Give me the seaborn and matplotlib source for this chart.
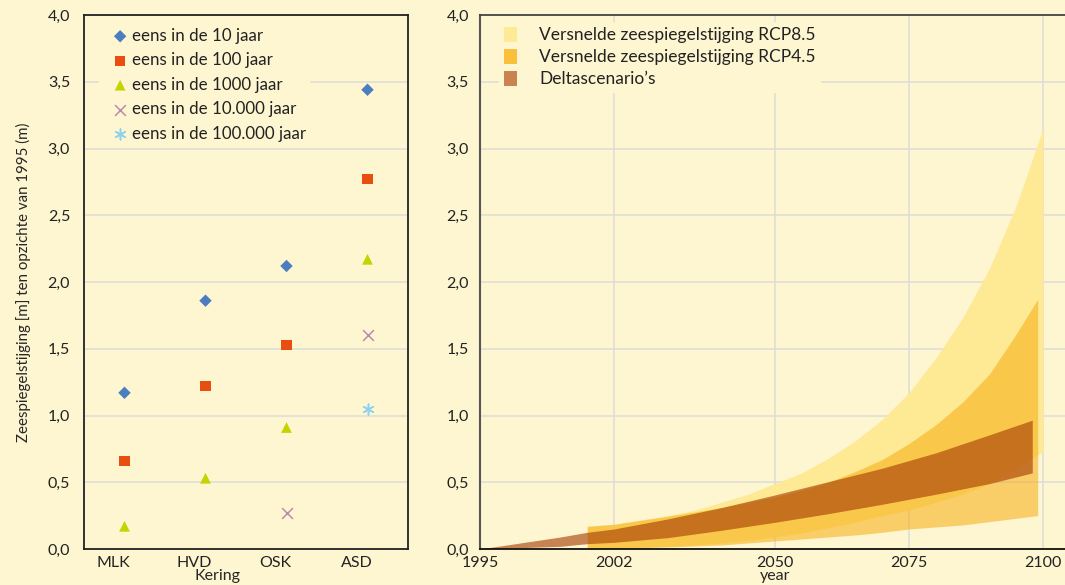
import matplotlib
matplotlib.use('Agg')
import numpy as np
import pandas as pd
import matplotlib.pyplot as plt
import matplotlib.transforms as mtrans
import seaborn as sns
from matplotlib.ticker import FuncFormatter, FixedLocator
from matplotlib.patches import Patch

# Kleuren
BG = '#FEF5D1'
GRID = '#DFDDD6'

# ---- linker paneel: waterstanden per kering ----
KERINGEN = ['MLK', 'HVD', 'OSK', 'ASD']
SERIES = ['eens in de 10 jaar', 'eens in de 100 jaar', 'eens in de 1000 jaar',
          'eens in de 10.000 jaar', 'eens in de 100.000 jaar']
T10 = [1.17, 1.86, 2.12, 3.44]
T100 = [0.66, 1.22, 1.53, 2.77]
T1000 = [0.17, 0.53, 0.91, 2.17]
T10000 = [np.nan, np.nan, 0.27, 1.60]
T100000 = [np.nan, np.nan, np.nan, 1.05]
MARKERS = ['D', 's', '^', 'x', (6, 2, 0)]
MARKER_COLORS = ['#4A7EC0', '#E84E10', '#C5D400', '#B98CAF', '#8DD3F0']
MARKER_SIZES = [40, 55, 60, 60, 60]

# ---- rechter paneel: zeespiegelstijging banden ----
DELTA_YEARS = [1995, 2010, 2015, 2020, 2030, 2040, 2050, 2060, 2070, 2080, 2090, 2098]
DELTA_LOW = [0.0, 0.02, 0.04, 0.05, 0.085, 0.14, 0.20, 0.265, 0.335, 0.41, 0.49, 0.57]
DELTA_HIGH = [0.0, 0.09, 0.125, 0.15, 0.225, 0.31, 0.405, 0.505, 0.605, 0.72, 0.855, 0.965]

RCP45_YEARS = [2015, 2020, 2030, 2040, 2050, 2055, 2060, 2065, 2070, 2075, 2080, 2085, 2090, 2095, 2099]
RCP45_LOW = [0.0, 0.005, 0.015, 0.03, 0.06, 0.075, 0.09, 0.105, 0.125, 0.15, 0.165, 0.18, 0.205, 0.23, 0.25]
RCP45_HIGH = [0.17, 0.185, 0.245, 0.31, 0.39, 0.44, 0.50, 0.58, 0.67, 0.79, 0.93, 1.10, 1.31, 1.61, 1.87]

RCP85_YEARS = [2015, 2020, 2030, 2035, 2040, 2045, 2050, 2055, 2060, 2065, 2070, 2075, 2080, 2085, 2090, 2095, 2100]
RCP85_LOW = [0.0, 0.005, 0.02, 0.03, 0.045, 0.065, 0.09, 0.12, 0.16, 0.20, 0.25, 0.29, 0.35, 0.41, 0.49, 0.60, 0.73]
RCP85_HIGH = [0.17, 0.185, 0.25, 0.29, 0.35, 0.41, 0.49, 0.57, 0.68, 0.81, 0.97, 1.17, 1.43, 1.73, 2.10, 2.57, 3.15]

YEAR_TICKS = [1995, 2020, 2050, 2075, 2100]
YEAR_LABELS = ['1995', '2002', '2050', '2075', '2100']
BAND_LABELS = ['Versnelde zeespiegelstijging RCP8.5', 'Versnelde zeespiegelstijging RCP4.5',
               "Deltascenario\u2019s"]
BAND_COLORS = ['#FEE995', '#F6A903', '#A43700']
BAND_ALPHA = [1.0, 0.5, 0.6]
LEGEND_COLORS = ['#FEE995', '#FBC03B', '#C8834F']

sns.set_theme(style='white')
plt.rcParams['font.family'] = ['Lato', 'DejaVu Sans']
plt.rcParams['text.color'] = '#222222'
plt.rcParams['xtick.color'] = '#222222'
plt.rcParams['ytick.color'] = '#222222'

W, H = 1065, 585
fig = plt.figure(figsize=(W / 100, H / 100), dpi=100, facecolor=BG)
comma = FuncFormatter(lambda v, p: f"{v:.1f}".replace('.', ','))

# ==================== LINKS ====================
ax1 = fig.add_axes([84 / W, 36 / H, 324 / W, 534 / H], facecolor=BG)
data = pd.DataFrame({'Kering': KERINGEN, SERIES[0]: T10, SERIES[1]: T100, SERIES[2]: T1000,
                     SERIES[3]: T10000, SERIES[4]: T100000})
long = data.melt(id_vars='Kering', var_name='serie', value_name='stijging').dropna()
long['pos'] = long['Kering'].map({k: i for i, k in enumerate(KERINGEN)})

for serie, m, c, s in zip(SERIES, MARKERS, MARKER_COLORS, MARKER_SIZES):
    sub = long[long['serie'] == serie]
    filled = m in ['D', 's', '^']
    kw = dict(edgecolor='none') if filled else dict(linewidth=1.1)
    sns.scatterplot(data=sub, x='pos', y='stijging', marker=m, color=c, s=s,
                    label=serie, ax=ax1, zorder=3, **kw)

ax1.set_xlim(-0.5, 3.5)
ax1.set_ylim(0, 4)
ax1.yaxis.set_major_locator(FixedLocator(np.arange(0, 4.01, 0.5)))
ax1.yaxis.set_major_formatter(comma)
ax1.set_xticks(range(len(KERINGEN)))
ax1.set_xticklabels(KERINGEN)
ax1.set_xticks(np.arange(-0.5, 3.6, 1), minor=True)
ax1.tick_params(axis='x', which='major', length=0, pad=5, labelsize=11.5)
ax1.tick_params(axis='x', which='minor', length=5, color='#D0D0D0', width=1)
ax1.tick_params(axis='y', length=7, color='#D0D0D0', width=1, labelsize=11.5, pad=3)
# labels iets naar links, zoals in het origineel
shift = mtrans.ScaledTranslation(-11 / 100, 0, fig.dpi_scale_trans)
for lab in ax1.get_xticklabels():
    lab.set_transform(lab.get_transform() + shift)
ax1.grid(axis='y', color=GRID, linewidth=1.2)
ax1.set_axisbelow(True)
for sp in ax1.spines.values():
    sp.set_color('#222222')
    sp.set_linewidth(1.3)
ax1.set_xlabel('Kering', fontsize=11.5)
ax1.xaxis.set_label_coords((217 - 84) / 324, -20 / 534)
ax1.set_ylabel('Zeespiegelstijging [m] ten opzichte van 1995 (m)', fontsize=10.8, labelpad=12)
ax1.legend(loc='upper left', bbox_to_anchor=(0.02, 1.0), frameon=True, facecolor=BG,
           edgecolor='none', framealpha=1, fontsize=12.2, handletextpad=-0.3,
           labelspacing=0.5, borderpad=0.25)

# ==================== RECHTS ====================
ax2 = fig.add_axes([480 / W, 36 / H, (W - 480) / W, 534 / H], facecolor=BG)
bands = [(RCP85_YEARS, RCP85_LOW, RCP85_HIGH), (RCP45_YEARS, RCP45_LOW, RCP45_HIGH),
         (DELTA_YEARS, DELTA_LOW, DELTA_HIGH)]
for (yrs, lo, hi), c, a in zip(bands, BAND_COLORS, BAND_ALPHA):
    ax2.fill_between(yrs, lo, hi, color=c, alpha=a, linewidth=0, zorder=2)

px_per_year = (1043 - 480) / 105
ax2.set_xlim(1995, 1995 + (W - 480) / px_per_year)
ax2.set_ylim(0, 4)
ax2.yaxis.set_major_locator(FixedLocator(np.arange(0, 4.01, 0.5)))
ax2.yaxis.set_major_formatter(comma)
ax2.set_xticks(YEAR_TICKS)
ax2.set_xticklabels(YEAR_LABELS)
ax2.grid(True, color=GRID, linewidth=1.2)
ax2.set_axisbelow(True)
ax2.tick_params(axis='x', length=3, color=GRID, labelsize=11.5, pad=2)
ax2.tick_params(axis='y', length=0, labelsize=11.5, pad=8)
ax2.spines['right'].set_visible(False)
ax2.spines['left'].set_color('#555555')
ax2.spines['left'].set_linewidth(1.5)
ax2.spines['top'].set_color('#444444')
ax2.spines['top'].set_linewidth(1.3)
ax2.spines['bottom'].set_color('#111111')
ax2.spines['bottom'].set_linewidth(1.3)
ax2.set_xlabel('year', fontsize=11.5)
ax2.xaxis.set_label_coords(0.505, -20 / 534)

handles = [Patch(facecolor=c, edgecolor='none') for c in LEGEND_COLORS]
ax2.legend(handles, BAND_LABELS, loc='upper left', bbox_to_anchor=(0.018, 1.003), frameon=True,
           facecolor=BG, edgecolor='none', framealpha=1, fontsize=12.5, handlelength=0.7,
           handleheight=0.9, handletextpad=1.3, labelspacing=0.33, borderpad=0.3)

fig.savefig('out.png', dpi=100, facecolor=BG)
